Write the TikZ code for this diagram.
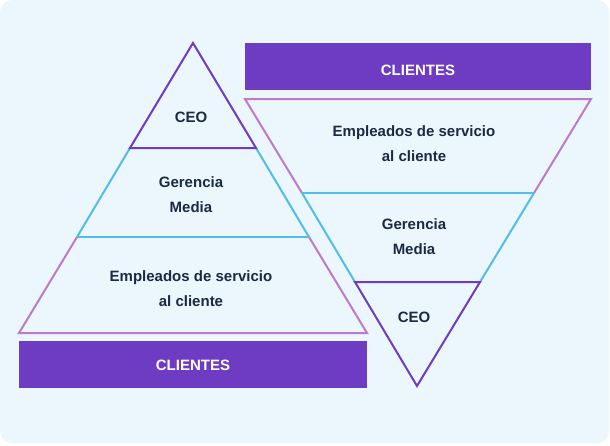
\documentclass[tikz,border=0pt]{standalone}
\usepackage{fontspec}
\setmainfont{Liberation Sans}
\definecolor{bgc}{HTML}{ECF6FD}
\definecolor{dpurple}{HTML}{6E3CC2}
\definecolor{lblue}{HTML}{52BDEA}
\definecolor{pinkp}{HTML}{BC7ACB}
\definecolor{txt}{HTML}{1B2A44}
\begin{document}
\begin{tikzpicture}[x=1pt,y=-1pt,
  lbl/.style={font=\bfseries\fontsize{15}{25}\selectfont,text=txt,align=center,inner sep=0},
  bar/.style={fill=dpurple,draw=none},
  barlbl/.style={font=\bfseries\fontsize{15}{18}\selectfont,text=white,inner sep=0},
  seg/.style={line width=2pt,line join=miter}]
\useasboundingbox (0,0) rectangle (610,445);
\fill[bgc,rounded corners=12pt] (0,0) rectangle (609,443);
% left pyramid
\coordinate (LA) at (193,43);
\coordinate (L1l) at (130,148); \coordinate (L1r) at (256,148);
\coordinate (L2l) at (77,237); \coordinate (L2r) at (309,237);
\coordinate (L3l) at (19,333); \coordinate (L3r) at (367,333);
\draw[seg,lblue] (L1l) -- (L2l) (L1r) -- (L2r);
\draw[seg,pinkp] (L2l) -- (L3l) -- (L3r) -- (L2r);
\draw[seg,lblue] (L2l) -- (L2r);
\draw[seg,dpurple] (L1l) -- (LA) -- (L1r) -- cycle;
\node[lbl] (lceo) at (191,117) {CEO};
\node[lbl] (lger) at (191,195) {Gerencia\\Media};
\node[lbl] (lemp) at (191,289) {Empleados de servicio\\al cliente};
\fill[bar] (19,341) rectangle (367,388);
\node[barlbl] (lcli) at (193,365) {CLIENTES};
% right inverted pyramid
\fill[bar] (245,43) rectangle (591,90);
\node[barlbl] (rcli) at (418,70) {CLIENTES};
\coordinate (RA) at (417,386);
\coordinate (R1l) at (355,282); \coordinate (R1r) at (480,282);
\coordinate (R2l) at (302,193); \coordinate (R2r) at (534,193);
\coordinate (R3l) at (245,99); \coordinate (R3r) at (591,99);
\draw[seg,lblue] (R1l) -- (R2l) (R1r) -- (R2r);
\draw[seg,pinkp] (R2l) -- (R3l) -- (R3r) -- (R2r);
\draw[seg,lblue] (R2l) -- (R2r);
\draw[seg,dpurple] (R1l) -- (RA) -- (R1r) -- cycle;
\node[lbl] (remp) at (414,144) {Empleados de servicio\\al cliente};
\node[lbl] (rger) at (414,237) {Gerencia\\Media};
\node[lbl] (rceo) at (414,317) {CEO};
\end{tikzpicture}
\end{document}
